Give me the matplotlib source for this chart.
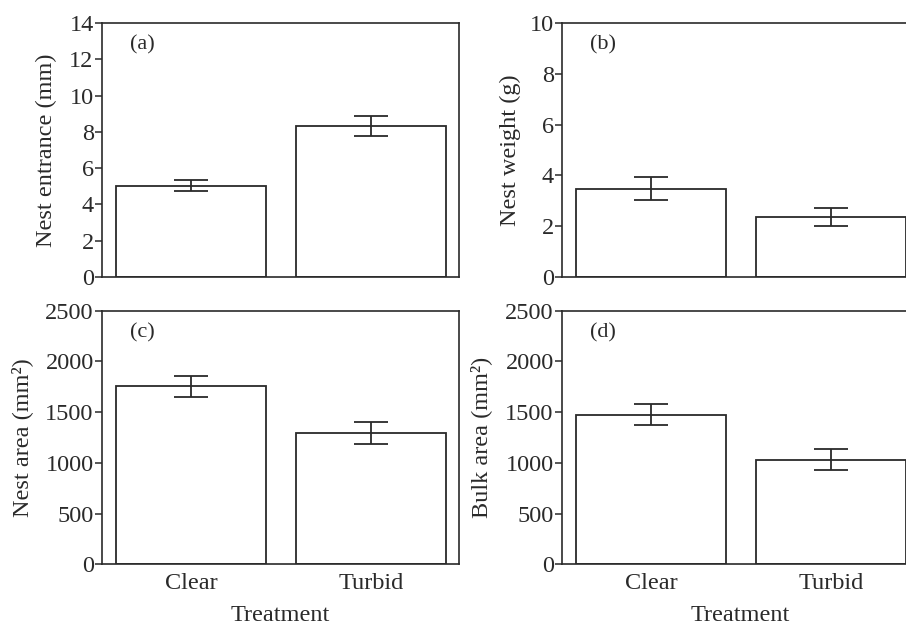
import numpy as np
from matplotlib import pyplot as plt

# data
treatments = ["Clear", "Turbid"]
entrance = [5.03, 8.34]
entrance_err = [0.30, 0.56]
weight = [3.48, 2.37]
weight_err = [0.46, 0.36]
nest_area = [1752, 1293]
nest_area_err = [102, 108]
bulk_area = [1475, 1032]
bulk_area_err = [100, 100]

plt.rcParams['font.family'] = ['Liberation Serif', 'DejaVu Serif']
plt.rcParams['font.size'] = 17.5
ink = '#2a2a2a'

fig = plt.figure(figsize=(9.06, 6.24), dpi=100)

# axes positions in figure fractions; right column runs past the edge like the original crop
w, h = 0.394, 0.407
boxes = [
    (0.1126, 0.5561),
    (0.6203, 0.5561),
    (0.1126, 0.0954),
    (0.6203, 0.0954),
]
# where the y label sits (axes fraction, right edge of the rotated text)
ylab_x = [-0.126, -0.115, -0.193, -0.196]

panels = [
    (entrance, entrance_err, "Nest entrance (mm)", 14, 2, "(a)"),
    (weight, weight_err, "Nest weight (g)", 10, 2, "(b)"),
    (nest_area, nest_area_err, "Nest area (mm²)", 2500, 500, "(c)"),
    (bulk_area, bulk_area_err, "Bulk area (mm²)", 2500, 500, "(d)"),
]

x = np.arange(len(treatments))
for k, (vals, errs, lab, top, step, tag) in enumerate(panels):
    ax = fig.add_axes([boxes[k][0], boxes[k][1], w, h])
    ax.bar(x, vals, width=0.835, color='white', edgecolor=ink, linewidth=1.3)
    ax.errorbar(x, vals, yerr=errs, fmt='none', ecolor=ink, elinewidth=1.3,
                capsize=12, capthick=1.3)
    ax.set_xlim(-0.495, 1.49)
    ax.set_ylim(0, top)
    ax.set_yticks(np.arange(0, top + step, step))
    ax.set_xticks(x)
    if k >= 2:
        ax.set_xticklabels(treatments)
        ax.set_xlabel("Treatment", color=ink)
        ax.xaxis.set_label_coords(0.5, -0.158)
    else:
        ax.set_xticklabels([])
    ax.tick_params(axis='x', length=0, pad=6, colors=ink)
    ax.tick_params(axis='y', direction='out', length=5, width=1.1, pad=1, colors=ink)
    ax.set_ylabel(lab, color=ink)
    ax.yaxis.set_label_coords(ylab_x[k], 0.5)
    for s in ax.spines.values():
        s.set_color(ink)
        s.set_linewidth(1.2)
    ax.text(0.078, 0.95, tag, transform=ax.transAxes, fontsize=16,
            va='top', ha='left', color=ink)

fig.savefig("out.png", dpi=100)
